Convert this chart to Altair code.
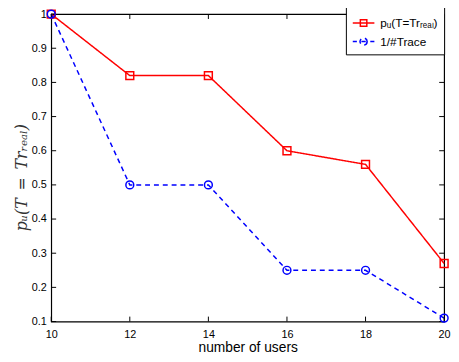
import altair as alt
import pandas as pd

users = [10, 12, 14, 16, 18, 20]
p_real = [1.0, 0.82, 0.82, 0.60, 0.56, 0.27]
inv_trace = [1.0, 0.50, 0.50, 0.25, 0.25, 0.11]
series_names = ["p\u1d64(T=Tr\u1d63\u2091\u2090\u2097)", "1/#Trace"]
x_ticks = [10, 12, 14, 16, 18, 20]
y_ticks = [0.1, 0.2, 0.3, 0.4, 0.5, 0.6, 0.7, 0.8, 0.9, 1.0]

W, H = 400, 313

df = pd.DataFrame({
    "users": users * 2,
    "value": p_real + inv_trace,
    "series": [series_names[0]] * len(users) + [series_names[1]] * len(users),
})
xt = pd.DataFrame({"t": x_ticks})
yt = pd.DataFrame({"t": y_ticks})

xs = alt.Scale(domain=[10, 20], nice=False, zero=False)
ys = alt.Scale(domain=[0.1, 1.0], nice=False, zero=False)
cs = alt.Scale(domain=series_names, range=["#ff0000", "#0000ff"])

red_path = "M-1,0H1M-0.3,-0.3H0.3V0.3H-0.3Z"
blue_path = ("M-1,0H-0.62M-0.2,0H0.2M0.62,0H1"
             "M0.33,0A0.33,0.33,0,1,1,-0.33,0A0.33,0.33,0,1,1,0.33,0")

legend = alt.Legend(
    orient="none", legendX=300, legendY=-9, title=None,
    strokeColor="black", fillColor="white", padding=6,
    labelFont="Liberation Sans", labelFontSize=12, labelColor="black",
    symbolSize=484, symbolStrokeWidth=1.5, rowPadding=0, labelOffset=5,
    symbolOpacity=1, symbolFillColor="transparent",
)

x_axis = alt.Axis(
    values=x_ticks, title="number of users", ticks=False, domain=False, grid=False,
    labelPadding=7, labelFont="Liberation Sans", labelFontSize=11, labelColor="black",
    titleFont="Liberation Sans", titleFontSize=14, titleFontWeight="normal",
    titleColor="black", titlePadding=2, labelFlush=False, labelOverlap=False)
y_axis = alt.Axis(
    values=y_ticks, format=".1~f",
    title="p\u1d64(T\u2002=\u2002Tr\u1d63\u2091\u2090\u2097)",
    ticks=False, domain=False, grid=False, labelPadding=5, labelOverlap=False,
    labelFont="Liberation Sans", labelFontSize=11, labelColor="black",
    titleFont="DejaVu Serif", titleFontStyle="italic", titleFontSize=16,
    titleFontWeight="normal", titleColor="#333333",
    titleX=-30, titleY=166, titleAngle=270, titleBaseline="middle", titleAlign="center",
    labelFlush=False)

color_enc = alt.Color("series:N", scale=cs, legend=legend)
X = alt.X("users:Q", scale=xs, axis=x_axis)
Y = alt.Y("value:Q", scale=ys, axis=y_axis)

lines = alt.Chart(df).mark_line(strokeWidth=1.5).encode(
    x=X, y=Y,
    color=color_enc,
    strokeDash=alt.StrokeDash("series:N", scale=alt.Scale(domain=series_names, range=[[1, 0], [5, 4]]), legend=None),
)
sq = alt.Chart(df).transform_filter(alt.datum.series == series_names[0]).mark_point(
    filled=False, size=64, strokeWidth=1.5, opacity=1, shape="square").encode(
    x=X, y=Y, color=color_enc)
ci = alt.Chart(df).transform_filter(alt.datum.series == series_names[1]).mark_point(
    filled=False, size=64, strokeWidth=1.5, opacity=1, shape="circle").encode(
    x=X, y=Y, color=color_enc)

leg = alt.Chart(df).mark_point(filled=False, opacity=0, strokeWidth=1.5).encode(
    x=X, y=Y,
    color=color_enc,
    shape=alt.Shape("series:N", scale=alt.Scale(domain=series_names, range=[red_path, blue_path]), legend=legend),
)

tick_style = dict(color="black", strokeWidth=1)
TX = alt.X("t:Q", scale=xs, axis=x_axis)
TY = alt.Y("t:Q", scale=ys, axis=y_axis)
bx = alt.Chart(xt).mark_rule(**tick_style).encode(x=TX, y=alt.value(H), y2=alt.value(H - 5))
tx = alt.Chart(xt).mark_rule(**tick_style).encode(x=TX, y=alt.value(0), y2=alt.value(5))
ly = alt.Chart(yt).mark_rule(**tick_style).encode(y=TY, x=alt.value(0), x2=alt.value(5))
ry = alt.Chart(yt).mark_rule(**tick_style).encode(y=TY, x=alt.value(W), x2=alt.value(W - 5))

chart = alt.layer(lines, bx, tx, ly, ry, sq, ci, leg).properties(
    width=W, height=H,
    autosize=alt.AutoSizeParams(type="none"),
    padding={"left": 44, "top": 3, "right": 7, "bottom": 38},
    background="white",
).configure_view(stroke="black", strokeWidth=1.2).configure_axis(labelOverlap=False)

chart.save("out.html", embed_options={"renderer": "svg", "actions": False})
